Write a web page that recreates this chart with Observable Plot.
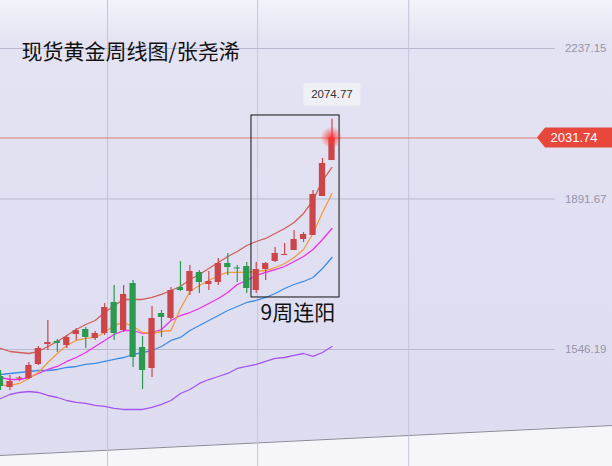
<!DOCTYPE html>
<html><head><meta charset="utf-8">
<script src="https://cdn.jsdelivr.net/npm/d3@7"></script>
<script src="https://cdn.jsdelivr.net/npm/@observablehq/plot@0.6"></script>
<style>
html,body{margin:0;padding:0;background:#fff;}
#chart{width:612px;height:466px;overflow:hidden;position:relative;}
</style></head><body><div id="chart"></div>
<script>
// ---- data (weekly candles, index 0..35) ----
const weekIndex = d3.range(36);
const open  = [1484.2,1459.0,1478.5,1479.6,1511.8,1557.7,1564.6,1555.4,1580.6,1592.1,1571.5,1582.9,1654.1,1589.8,1697.7,1550.8,1502.6,1628.8,1617.4,1688.5,1679.3,1723.0,1695.4,1700.0,1743.6,1733.3,1736.7,1681.6,1729.8,1748.2,1762.0,1773.4,1798.7,1807.9,1897.4,1980.0];
const high  = [1498.0,1486.5,1484.2,1516.4,1553.1,1612.8,1569.2,1578.3,1594.4,1596.7,1587.5,1651.8,1693.1,1693.1,1704.6,1576.0,1644.9,1635.7,1688.5,1748.2,1739.0,1727.5,1725.3,1755.1,1766.6,1739.0,1745.9,1745.9,1745.9,1780.3,1789.5,1819.4,1814.8,1911.2,1984.6,2074.77];
const low   = [1452.1,1452.1,1472.7,1477.3,1509.5,1543.9,1539.3,1548.5,1566.9,1548.5,1566.9,1578.3,1566.9,1585.2,1504.9,1454.4,1481.9,1573.8,1612.8,1679.3,1670.2,1674.7,1681.6,1693.1,1716.1,1700.0,1674.7,1674.7,1704.6,1745.9,1762.0,1773.4,1791.8,1807.9,1897.4,1980.0];
const close = [1461.3,1472.7,1480.8,1509.5,1548.5,1562.3,1560.0,1573.8,1589.8,1573.8,1582.9,1642.6,1582.9,1672.5,1527.8,1498.0,1617.4,1619.7,1681.6,1681.6,1725.3,1700.0,1702.3,1743.6,1734.4,1731.0,1686.2,1729.8,1743.6,1766.6,1764.3,1798.7,1810.2,1902.0,1973.2,2031.74];

// indicator lines
const bandUpper = [1548.5,1541.6,1539.3,1537.0,1541.6,1553.1,1564.6,1578.3,1592.1,1603.6,1612.8,1631.1,1647.2,1661.0,1661.0,1661.0,1665.6,1672.5,1681.6,1690.8,1706.9,1718.4,1732.1,1745.9,1759.7,1771.2,1784.9,1794.1,1801.0,1812.5,1824.0,1837.7,1858.4,1888.2,1934.1,1964.0];
const maFast    = [1463.6,1463.6,1468.2,1479.6,1493.4,1516.4,1537.0,1555.4,1566.9,1571.5,1573.8,1585.2,1601.3,1608.2,1599.0,1585.2,1582.9,1587.5,1589.8,1640.3,1679.3,1693.1,1704.6,1716.1,1723.0,1723.0,1723.0,1725.3,1727.5,1734.4,1743.6,1757.4,1775.8,1812.5,1860.7,1904.3];
const maMid     = [1481.9,1477.3,1477.3,1481.9,1491.1,1500.3,1507.2,1518.7,1527.8,1539.3,1553.1,1566.9,1580.6,1589.8,1589.8,1582.9,1585.2,1592.1,1612.8,1624.2,1631.1,1640.3,1651.8,1663.3,1677.0,1695.4,1704.6,1716.1,1723.0,1729.8,1736.7,1748.2,1759.7,1775.8,1798.7,1824.0];
const maSlow    = [1488.8,1491.1,1493.4,1495.7,1498.0,1498.0,1500.3,1504.9,1507.2,1511.8,1514.1,1518.7,1523.3,1527.8,1534.7,1539.3,1543.9,1553.1,1566.9,1573.8,1589.8,1601.3,1612.8,1624.2,1635.7,1644.9,1654.1,1658.7,1665.6,1674.7,1686.2,1695.4,1702.3,1711.5,1732.1,1757.4];
const bandLower = [1433.7,1442.9,1447.5,1449.8,1447.5,1440.6,1436.0,1429.1,1424.6,1422.3,1417.7,1415.4,1410.8,1408.5,1408.5,1408.5,1413.1,1420.0,1429.1,1445.2,1454.4,1468.2,1477.3,1484.2,1491.1,1502.6,1507.2,1511.8,1518.7,1525.6,1527.8,1532.5,1537.0,1530.2,1539.3,1553.1];

// labels / annotations
const axisTicks = [2237.15, 1891.67, 1546.19];
const lastPrice = 2031.74;
const highPrice = 2074.77;
const titleText = "现货黄金周线图/张尧浠";
const noteText = "9周连阳";
const boxWeeks = [26.5, 35.8];
const boxPrices = [1665.6, 2083.4];
const notePos = {week: 31.4, price: 1628.8};
const timeGrid = [11.3, 27.15, 43.1];
const xDomain = [0, 64.62];
const yDomain = [1277.6, 2347.33];
const floorEdge = [{w: 0, p: 1302.9}, {w: 64.62, p: 1371.7}];

const rows = weekIndex.map(i => ({i, o: open[i], h: high[i], l: low[i], c: close[i], up: close[i] >= open[i]}));
const UP = "#cc4548", DOWN = "#2a9a4e";
const lineSpec = [
  [bandUpper, "#cf5f58"],
  [bandLower, "#a455ee"],
  [maSlow, "#3d8de6"],
  [maMid, "#ee2ee8"],
  [maFast, "#f39a3c"]
];

const chart = Plot.plot({
  width: 612, height: 466, margin: 0,
  x: {domain: xDomain, axis: null},
  y: {domain: yDomain, axis: null},
  style: {background: "transparent", overflow: "visible"},
  marks: [
    Plot.areaY(floorEdge, {x: "w", y1: yDomain[0], y2: "p", fill: "#f6f6fa"}),
    Plot.line(floorEdge, {x: "w", y: "p", stroke: "#8a8a98", strokeWidth: 1}),
    Plot.ruleX(timeGrid, {stroke: "#c3c3da", strokeWidth: 1}),
    Plot.ruleY(axisTicks, {x1: 0, x2: 58.6, stroke: "#b9b9cf", strokeWidth: 1}),
    Plot.text(axisTicks, {y: d => d, text: d => d.toFixed(2), frameAnchor: "right", textAnchor: "end", dx: -6,
      fill: "#9494ab", fontSize: 11.5, fontFamily: "Liberation Sans, Arial, sans-serif"}),
    Plot.ruleY([lastPrice], {x1: 0, x2: 57.2, stroke: "#e07f72", strokeWidth: 1}),
    ...lineSpec.map(([arr, color]) => Plot.line(weekIndex, {x: d => d, y: i => arr[i], stroke: color, strokeWidth: 1.3})),
    Plot.ruleX(rows, {x: "i", y1: "l", y2: "h", stroke: d => d.up ? UP : DOWN, strokeWidth: 1.2}),
    Plot.rect(rows, {x1: d => d.i - 0.33, x2: d => d.i + 0.33, y1: "o", y2: "c", fill: d => d.up ? UP : DOWN}),
    Plot.rect([0], {x1: boxWeeks[0], x2: boxWeeks[1], y1: boxPrices[0], y2: boxPrices[1], fill: "none", stroke: "#111", strokeWidth: 1}),
    Plot.text([noteText], {x: notePos.week, y: notePos.price, text: d => d, fontSize: 21, fill: "#111",
      fontFamily: "Noto Sans CJK SC, sans-serif"}),
    Plot.text([titleText], {frameAnchor: "top-left", text: d => d, dx: 21, dy: 52, textAnchor: "start", lineAnchor: "middle",
      fontSize: 21, fill: "#111", fontFamily: "Noto Sans CJK SC, sans-serif"})
  ]
});

const svg = d3.select(chart);
const xs = chart.scale("x"), ys = chart.scale("y");
const defs = svg.insert("defs", ":first-child");
const bg = defs.append("linearGradient").attr("id", "bgGrad").attr("x1", 0).attr("y1", 0).attr("x2", 0).attr("y2", 1);
bg.append("stop").attr("offset", "0%").attr("stop-color", "#f3f3fa");
bg.append("stop").attr("offset", "9%").attr("stop-color", "#e4e3f3");
bg.append("stop").attr("offset", "100%").attr("stop-color", "#dddcf0");
const glow = defs.append("radialGradient").attr("id", "glow");
glow.append("stop").attr("offset", "0%").attr("stop-color", "#ff2a2a").attr("stop-opacity", 0.9);
glow.append("stop").attr("offset", "100%").attr("stop-color", "#ff4040").attr("stop-opacity", 0);
svg.insert("rect", "defs + *").attr("width", 612).attr("height", 466).attr("fill", "url(#bgGrad)");

// glow on last close
const lx = xs.apply(weekIndex[35]), ly = ys.apply(close[35]);
svg.append("circle").attr("cx", lx).attr("cy", ly).attr("r", 11).attr("fill", "url(#glow)");

// last price tag
const ty = ys.apply(lastPrice);
svg.append("path")
  .attr("d", `M537,${ty} L545,${ty - 10} L612,${ty - 10} L612,${ty + 10} L545,${ty + 10} Z`)
  .attr("fill", "#e8473c");
svg.append("text").attr("x", 574).attr("y", ty).attr("dy", "0.36em").attr("text-anchor", "middle")
  .attr("fill", "#fff").attr("font-size", 13).attr("font-family", "Liberation Sans, Arial, sans-serif")
  .text(lastPrice.toFixed(2));

// high label
const hy = ys.apply(highPrice);
const hx = xs.apply(weekIndex[35]);
svg.append("rect").attr("x", hx - 28).attr("y", hy - 36).attr("width", 57).attr("height", 23).attr("rx", 3)
  .attr("fill", "#efeff6");
svg.append("text").attr("x", hx + 0.5).attr("y", hy - 24.5).attr("dy", "0.36em").attr("text-anchor", "middle")
  .attr("fill", "#333").attr("font-size", 11.5).attr("font-family", "Liberation Sans, Arial, sans-serif")
  .text(highPrice.toFixed(2));

document.getElementById("chart").appendChild(chart);
</script>
</body></html>
